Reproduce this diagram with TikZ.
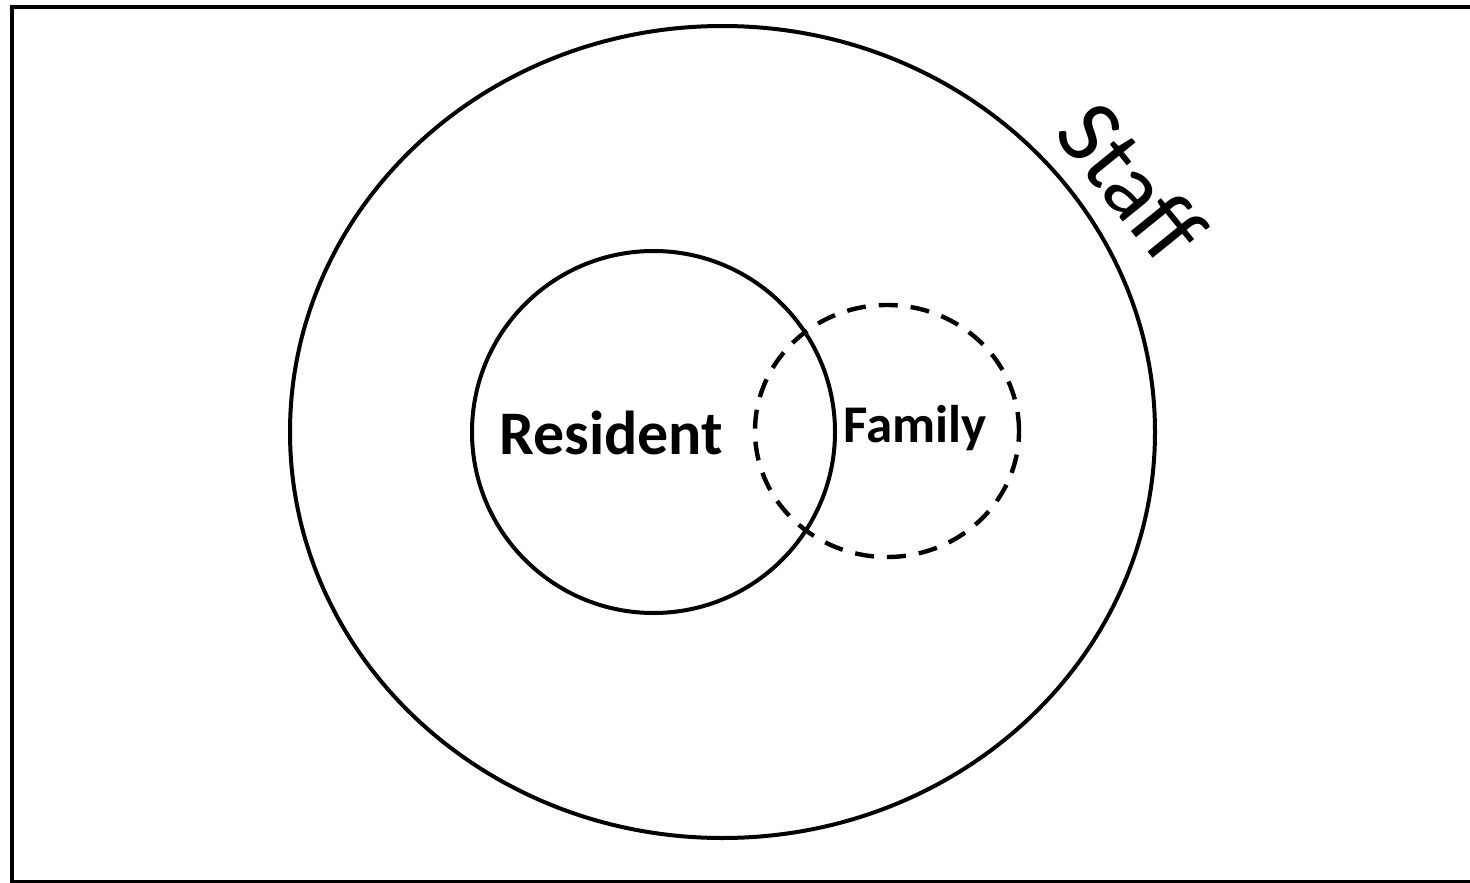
\documentclass[tikz,border=0pt]{standalone}
\usepackage{fontspec}
\setmainfont{Carlito}
\usetikzlibrary{positioning,shapes.geometric}
\tikzset{
    ring/.style={ellipse, draw, line width=4pt, inner sep=0pt,
        minimum width=#1},
    dashring/.style={ring=#1, line width=4.4pt, dash pattern=on 19pt off 13pt},
    tag/.style={inner sep=0pt, font=\fontsize{#1}{#1}\selectfont\bfseries},
}

\begin{document}
\begin{tikzpicture}[x=1pt, y=-1pt]
    \useasboundingbox (0,0) rectangle (1470,883);
    \clip (0,0) rectangle (1470,883);
    \draw[line width=4.5pt] (12,7) rectangle (1540,882);
    \node[ring=865pt, minimum height=812pt] (staffring) at (722.5,432) {};
    \node[ring=363pt, minimum height=362pt] (resring) at (653.5,432) {};
    \node[dashring=264pt, minimum height=252pt] (famring) at (887,431) {};
    \node[tag=62pt] (restext) at (611,433) {Resident};
    \node[tag=53pt] (famtext) at (915,428) {Family};
    \node[inner sep=0pt, rotate=-51, font=\fontsize{94pt}{94pt}\selectfont]
        (stafftext) at (1132,181) {Staff};
\end{tikzpicture}
\end{document}
